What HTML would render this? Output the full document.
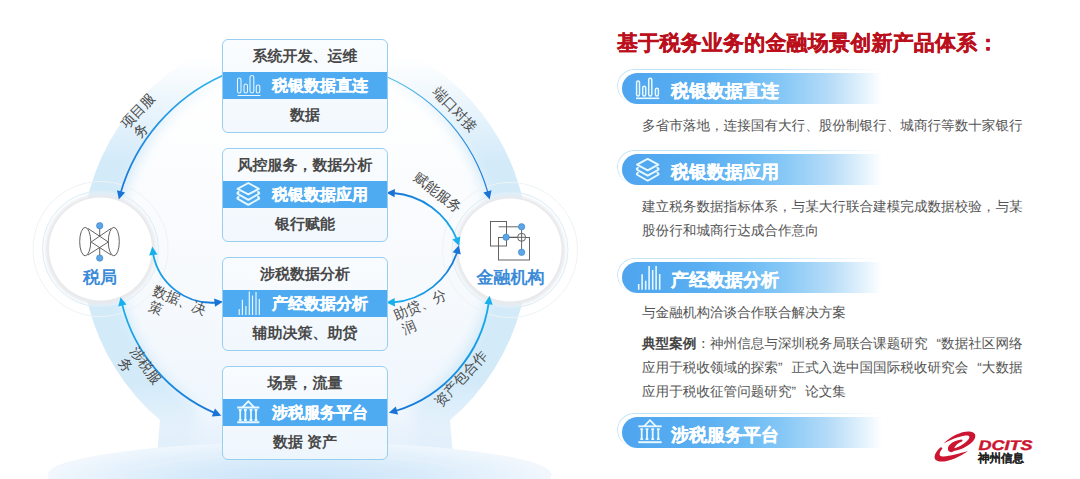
<!DOCTYPE html>
<html><head><meta charset="utf-8">
<style>
html,body{margin:0;padding:0;background:#fff;}
body{width:1080px;height:479px;overflow:hidden;position:relative;font-family:"Liberation Sans",sans-serif;text-rendering:geometricPrecision;}
#bg{position:absolute;left:0;top:0;}
.box{position:absolute;left:222px;width:164px;height:92px;border:1px solid #98cff0;border-radius:6px;background:linear-gradient(rgba(249,252,255,0.85),rgba(240,247,253,0.85));overflow:hidden;}
.box .t{position:absolute;left:0;right:0;top:6px;height:22px;line-height:22px;text-align:center;font-size:15px;font-weight:bold;color:#484848;}
.box .bar{position:absolute;left:0;right:0;top:32px;height:27px;background:#4eabf1;}
.box .bar span{position:absolute;left:49px;top:1px;line-height:27px;font-size:16px;font-weight:bold;color:#fff;white-space:nowrap;-webkit-text-stroke:0.3px #fff;}
.box .bar svg{position:absolute;left:0;top:0;}
.box .b{position:absolute;left:0;right:0;top:65px;height:22px;line-height:22px;text-align:center;font-size:15px;font-weight:bold;color:#484848;}
.title{position:absolute;left:617px;top:30px;font-size:21px;font-weight:bold;color:#bb101c;white-space:nowrap;letter-spacing:0.2px;-webkit-text-stroke:0.3px #bb101c;}
.pill{position:absolute;left:612px;width:270px;height:40px;}
.pill .fill{position:absolute;left:10px;top:5px;width:260px;height:31px;border-radius:16px 0 0 16px;background:linear-gradient(90deg,#4ea5ef 0%,#5aaff1 30%,#6dbbf4 48%,#86c8f6 62%,#b6dcf8 80%,#e0f1fc 92%,rgba(255,255,255,0) 100%);}
.pill .ol{position:absolute;left:5px;top:1px;width:265px;height:33px;border-radius:18px 0 0 18px;border-top:1.5px solid #c4e4f8;border-left:1.5px solid #c4e4f8;-webkit-mask:linear-gradient(90deg,#000 0%,#000 60%,transparent 100%);}
.pill span{position:absolute;left:59px;top:8px;line-height:31px;font-size:18px;font-weight:bold;color:#fff;white-space:nowrap;-webkit-text-stroke:0.25px #fff;}
.q{display:inline-block;width:13.6px;text-align:right;}.q2{display:inline-block;width:13.6px;text-align:left;}
.pill svg{position:absolute;left:0;top:0;}
.desc{position:absolute;left:642px;font-size:13.6px;color:#555;white-space:nowrap;line-height:24px;}
</style></head><body>
<svg id="bg" width="1080" height="479" viewBox="0 0 1080 479">
<defs>
  <linearGradient id="disc" x1="0" y1="29" x2="0" y2="479" gradientUnits="userSpaceOnUse">
    <stop offset="0" stop-color="#ffffff"/>
    <stop offset="0.55" stop-color="#f7fafd"/>
    <stop offset="0.85" stop-color="#eff6fd"/>
    <stop offset="1" stop-color="#dcecfa"/>
  </linearGradient>
  <radialGradient id="band" cx="305" cy="250" r="222" gradientUnits="userSpaceOnUse">
    <stop offset="0.79" stop-color="#e6f1fb" stop-opacity="0"/>
    <stop offset="0.96" stop-color="#d6e8f8" stop-opacity="1"/>
    <stop offset="1" stop-color="#d0e4f7" stop-opacity="1"/>
  </radialGradient>
  <linearGradient id="tf" x1="0" y1="0" x2="0" y2="1">
    <stop offset="0" stop-color="#fff" stop-opacity="0"/>
    <stop offset="0.12" stop-color="#fff" stop-opacity="0"/>
    <stop offset="0.34" stop-color="#fff" stop-opacity="1"/>
    <stop offset="0.8" stop-color="#fff" stop-opacity="1"/>
    <stop offset="0.9" stop-color="#fff" stop-opacity="0.25"/>
    <stop offset="1" stop-color="#fff" stop-opacity="0.1"/>
  </linearGradient>
  <filter id="blur1" x="-20%" y="-20%" width="140%" height="140%"><feGaussianBlur stdDeviation="1.6"/></filter>
  <clipPath id="sil"><path d="M305 26.5 A223.5 223.5 0 0 0 160 420.1 L152 520 L458 520 L450 420.1 A223.5 223.5 0 0 0 305 26.5 Z"/></clipPath>
  <filter id="blurBand" x="-10%" y="-10%" width="120%" height="120%"><feGaussianBlur stdDeviation="6"/></filter>
  <mask id="topfade2" maskUnits="userSpaceOnUse" x="0" y="0" width="1080" height="479"><rect x="0" y="0" width="1080" height="479" fill="url(#tf2)"/></mask>
  <linearGradient id="tf2" x1="0" y1="0" x2="0" y2="1">
    <stop offset="0" stop-color="#fff" stop-opacity="0"/>
    <stop offset="0.1" stop-color="#fff" stop-opacity="0"/>
    <stop offset="0.4" stop-color="#fff" stop-opacity="1"/>
  </linearGradient>
  <mask id="topfade" maskUnits="userSpaceOnUse" x="0" y="0" width="1080" height="479"><rect x="0" y="0" width="1080" height="479" fill="url(#tf)"/></mask>
  <linearGradient id="beamL" x1="0" y1="0" x2="1" y2="0">
    <stop offset="0" stop-color="#d3e6f8" stop-opacity="0.9"/>
    <stop offset="1" stop-color="#e6f1fb" stop-opacity="0"/>
  </linearGradient>
  <linearGradient id="beamR" x1="1" y1="0" x2="0" y2="0">
    <stop offset="0" stop-color="#d3e6f8" stop-opacity="0.9"/>
    <stop offset="1" stop-color="#e6f1fb" stop-opacity="0"/>
  </linearGradient>
  <radialGradient id="plat" cx="299.5" cy="482" r="252" gradientTransform="translate(299.5 482) scale(1 0.17) translate(-299.5 -482)" gradientUnits="userSpaceOnUse">
    <stop offset="0" stop-color="#c9e3fa"/>
    <stop offset="0.45" stop-color="#d6eafa"/>
    <stop offset="0.8" stop-color="#e6f2fc"/>
    <stop offset="1" stop-color="#f1f7fd"/>
  </radialGradient>
  <radialGradient id="cw" cx="0.5" cy="0.45" r="0.55">
    <stop offset="0" stop-color="#ffffff"/>
    <stop offset="0.8" stop-color="#fdfdfe"/>
    <stop offset="1" stop-color="#e4e6ea"/>
  </radialGradient>
  <linearGradient id="ag1" x1="0" y1="0" x2="1" y2="1">
    <stop offset="0" stop-color="#29b6ea"/>
    <stop offset="1" stop-color="#1a73d6"/>
  </linearGradient>
</defs>
<!-- big disc -->
<g>
  <path d="M305 26.5 A223.5 223.5 0 0 0 160 420.1 L152 520 L458 520 L450 420.1 A223.5 223.5 0 0 0 305 26.5 Z" fill="url(#disc)" mask="url(#topfade2)"/>
  <g clip-path="url(#sil)" mask="url(#topfade)">
    <path d="M305 26.5 A223.5 223.5 0 0 0 160 420.1 L152 520 L458 520 L450 420.1 A223.5 223.5 0 0 0 305 26.5 Z" fill="none" stroke="#d3eaf9" stroke-width="70" filter="url(#blurBand)"/>
  </g>
</g>
<!-- platform -->
<ellipse cx="299.5" cy="475" rx="252" ry="33" fill="url(#plat)"/>
<ellipse cx="300" cy="486" rx="195" ry="32" fill="none" stroke="#e6f1fb" stroke-width="1.2"/>
<!-- circles -->
<g>
  <circle cx="100.5" cy="249" r="67.5" fill="none" stroke="#eef3f6" stroke-width="1"/>
  <circle cx="100.5" cy="249" r="58" fill="rgba(250,252,255,0.3)" stroke="#dcedf6" stroke-width="1"/>
  <circle cx="100.5" cy="249.5" r="55" fill="#e8e9ec" filter="url(#blur1)"/>
  <circle cx="100.5" cy="249" r="51.5" fill="#ffffff"/>
  <circle cx="510" cy="250" r="67.5" fill="none" stroke="#eef3f6" stroke-width="1"/>
  <circle cx="510" cy="250" r="58" fill="rgba(250,252,255,0.3)" stroke="#dcedf6" stroke-width="1"/>
  <circle cx="510" cy="250.5" r="55" fill="#e8e9ec" filter="url(#blur1)"/>
  <circle cx="510" cy="250" r="51.5" fill="#ffffff"/>
</g>
<!-- arrows -->
<defs>
<linearGradient id="ar0" gradientUnits="userSpaceOnUse" x1="222.2" y1="75.7" x2="118.8" y2="199.5"><stop offset="0" stop-color="#2fb4ea"/><stop offset="1" stop-color="#1a74d6"/></linearGradient>
<linearGradient id="ar1" gradientUnits="userSpaceOnUse" x1="387.8" y1="77.2" x2="489.7" y2="199.5"><stop offset="0" stop-color="#5cc0ec"/><stop offset="1" stop-color="#1a74d6"/></linearGradient>
<linearGradient id="ar2" gradientUnits="userSpaceOnUse" x1="152.2" y1="246.6" x2="223" y2="301.7"><stop offset="0" stop-color="#18b0ec"/><stop offset="1" stop-color="#1a74d6"/></linearGradient>
<linearGradient id="ar3" gradientUnits="userSpaceOnUse" x1="120.5" y1="297.3" x2="221.3" y2="415.7"><stop offset="0" stop-color="#18b0ec"/><stop offset="1" stop-color="#1a74d6"/></linearGradient>
<linearGradient id="ar4" gradientUnits="userSpaceOnUse" x1="386.3" y1="192.8" x2="459.3" y2="246"><stop offset="0" stop-color="#1a74d6"/><stop offset="1" stop-color="#18b0ec"/></linearGradient>
<linearGradient id="ar5" gradientUnits="userSpaceOnUse" x1="459" y1="245.2" x2="386.3" y2="302.6"><stop offset="0" stop-color="#1a74d6"/><stop offset="1" stop-color="#18b0ec"/></linearGradient>
<linearGradient id="ar6" gradientUnits="userSpaceOnUse" x1="489.6" y1="295.8" x2="388.8" y2="412.8"><stop offset="0" stop-color="#18b0ec"/><stop offset="1" stop-color="#1a74d6"/></linearGradient>
</defs>
<g fill="none" stroke-linecap="round">
<path d="M222.2 75.7 A185.6 185.6 0 0 0 120.6 192.9" stroke="url(#ar0)" stroke-width="1.7"/>
<path d="M387.8 77.2 A181.5 181.5 0 0 1 488.0 192.9" stroke="url(#ar1)" stroke-width="1.2"/>
<path d="M153.0 253.3 A60.0 60.0 0 0 0 216.3 302.6" stroke="url(#ar2)" stroke-width="1.8"/>
<path d="M122.0 303.9 A161.4 161.4 0 0 0 215.0 413.2" stroke="url(#ar3)" stroke-width="1.8"/>
<path d="M393.1 193.0 A74.8 74.8 0 0 1 457.0 239.6" stroke="url(#ar4)" stroke-width="1.8"/>
<path d="M457.2 251.8 A73.3 73.3 0 0 1 393.1 302.4" stroke="url(#ar5)" stroke-width="1.8"/>
<path d="M488.8 302.5 A133.7 133.7 0 0 1 395.4 411.0" stroke="url(#ar6)" stroke-width="1.8"/>
</g>
<g>
<path d="M118.8 199.5 L117.0 190.2 L125.1 192.4 Z" fill="#1a74d6"/>
<path d="M489.7 199.5 L483.4 192.4 L491.5 190.2 Z" fill="#1a74d6"/>
<path d="M223.0 301.7 L215.0 306.8 L214.1 298.5 Z" fill="#1a74d6"/>
<path d="M152.2 246.6 L157.5 254.5 L149.2 255.6 Z" fill="#18b0ec"/>
<path d="M221.3 415.7 L211.8 416.4 L215.0 408.6 Z" fill="#1a74d6"/>
<path d="M120.5 297.3 L126.5 304.6 L118.3 306.5 Z" fill="#18b0ec"/>
<path d="M459.3 246.0 L452.4 239.5 L460.3 236.6 Z" fill="#18b0ec"/>
<path d="M386.3 192.8 L395.0 188.9 L394.6 197.3 Z" fill="#1a74d6"/>
<path d="M386.3 302.6 L394.6 298.0 L395.0 306.4 Z" fill="#18b0ec"/>
<path d="M459.0 245.2 L460.7 254.5 L452.6 252.2 Z" fill="#1a74d6"/>
<path d="M388.8 412.8 L395.8 406.4 L398.1 414.5 Z" fill="#1a74d6"/>
<path d="M489.6 295.8 L492.7 304.8 L484.4 303.7 Z" fill="#18b0ec"/>
</g>
<!-- arrow labels -->
<g font-family="Liberation Sans, sans-serif" font-size="14" fill="#4a4a4a" dominant-baseline="central">
  <g transform="translate(127.9 120.7) rotate(-46)"><text x="-7" y="0">项目服</text><text x="-5" y="16">务</text></g>
  <g transform="translate(440.5 94) rotate(46)"><text x="-7" y="0">端口对接</text></g>
  <g transform="translate(421.3 179.4) rotate(37.5)"><text x="-7" y="0">赋能服务</text></g>
  <g transform="translate(160.2 292.2) rotate(22.3)"><text x="-7" y="0">数据、决</text><text x="-5" y="16">策</text></g>
  <g transform="translate(400.6 313.2) rotate(-23.5)"><text x="-7" y="0">助贷、分</text><text x="-5" y="16">润</text></g>
  <g transform="translate(137.8 354) rotate(54.3)"><text x="-7" y="0">涉税服</text><text x="-5" y="16">务</text></g>
  <g transform="translate(441.7 399.1) rotate(-47.3)"><text x="-7" y="0">资产包合作</text></g>
</g>
<!-- circle icons -->
<g fill="none" stroke="#5a5a5a" stroke-width="0.95">
  <ellipse cx="85.2" cy="241.6" rx="5.5" ry="14.2"/>
  <ellipse cx="113.8" cy="241.6" rx="5.5" ry="14.2"/>
  <path d="M87.9 228.4 L108.3 242 L87.9 255 M111.1 228.4 L91.1 242 L111.1 255 M99.7 228 L99.7 236 M99.7 247.5 L99.7 256"/>
</g>
<g fill="#5aa6e8" stroke="#3d80c2" stroke-width="0.6">
  <circle cx="99.7" cy="225.7" r="3.2"/>
  <circle cx="99.7" cy="258.1" r="3.2"/>
</g>
<text x="100" y="283.2" text-anchor="middle" font-family="Liberation Sans, sans-serif" font-size="17" font-weight="bold" fill="#3b8bd8">税局</text>
<g fill="none" stroke="#555" stroke-width="0.9">
  <rect x="490.5" y="221.5" width="16" height="24.5"/>
  <rect x="498.5" y="237.5" width="31" height="22.5"/>
  <path d="M498.6 226.8 L521.6 226.8 L521.6 252.3 M506.1 237.2 L517.6 237.2"/>
  <circle cx="521.6" cy="237.3" r="4" fill="#fff"/>
  <path d="M517.6 237.3 L525.6 237.3 M521.6 233.3 L521.6 241.3"/>
</g>
<g fill="#5aa6e8" stroke="#3d80c2" stroke-width="0.6">
  <circle cx="521.6" cy="226.8" r="3.2"/>
  <circle cx="506.1" cy="237.2" r="3.2"/>
  <circle cx="521.6" cy="252.3" r="3.2"/>
</g>
<text x="510.5" y="283.2" text-anchor="middle" font-family="Liberation Sans, sans-serif" font-size="17" font-weight="bold" fill="#3b8bd8">金融机构</text>
</svg>

<!-- boxes -->
<div class="box" style="top:39px">
  <div class="t">系统开发、运维</div>
  <div class="bar"><svg width="50" height="27"><g fill="none" stroke="#e8f6ff" stroke-width="1.1"><rect x="14.5" y="6" width="3.5" height="15" rx="1.75"/><rect x="21" y="12" width="3.5" height="9" rx="1.75"/><rect x="27" y="3.5" width="3.8" height="17.5" rx="1.9"/><rect x="33.3" y="13" width="3.5" height="8" rx="1.75"/><path d="M14.5 23.5 L37.5 23.5"/></g></svg><span>税银数据直连</span></div>
  <div class="b">数据</div>
</div>
<div class="box" style="top:148px">
  <div class="t">风控服务，数据分析</div>
  <div class="bar"><svg width="50" height="27"><g transform="translate(-10.4 -7.9)"><g fill="none" stroke="#e8f8ff" stroke-width="1.9" stroke-linejoin="round" stroke-linecap="round"><path d="M25 15.7 L35.7 9.9 L46.3 15.7 L35.7 21.3 Z"/><path d="M26 18.8 Q24 20 25.2 20.8 L35.7 26.7 L46.2 20.8 Q47.4 20 45.4 18.8"/><path d="M26 23.8 Q24 25 25.2 25.8 L35.7 31.8 L46.2 25.8 Q47.4 25 45.4 23.8"/></g></g></svg><span>税银数据应用</span></div>
  <div class="b">银行赋能</div>
</div>
<div class="box" style="top:257px">
  <div class="t">涉税数据分析</div>
  <div class="bar"><svg width="50" height="27"><g fill="none" stroke="#e8f6ff" stroke-width="1.2"><path d="M16.2 25 V19 M19.4 25 V9.7 M22.9 25 V16 M26.3 25 V1.5 M29.5 25 V5.6 M33 25 V2 M36.3 25 V9"/></g></svg><span>产经数据分析</span></div>
  <div class="b">辅助决策、助贷</div>
</div>
<div class="box" style="top:365.5px">
  <div class="t">场景，流量</div>
  <div class="bar"><svg width="50" height="27"><g fill="none" stroke="#e8f8ff" stroke-width="1.8"><path d="M19.3 8.5 L25.3 2.4 L31.3 8.5"/><path d="M14.2 8.5 L36.4 8.5"/><path d="M17.2 11.0 V21.0 M15.8 11.0 H18.6 M15.8 21.0 H18.6 M22.4 11.0 V21.0 M21.0 11.0 H23.8 M21.0 21.0 H23.8 M28.0 11.0 V21.0 M26.6 11.0 H29.4 M26.6 21.0 H29.4 M33.0 11.0 V21.0 M31.6 11.0 H34.4 M31.6 21.0 H34.4"/><path d="M14.2 23.3 L36.4 23.3" stroke-width="2"/></g></svg><span>涉税服务平台</span></div>
  <div class="b">数据 资产</div>
</div>

<!-- right side -->
<div class="title">基于税务业务的金融场景创新产品体系：</div>

<div class="pill" style="top:68px"><div class="ol"></div><div class="fill"></div>
  <svg width="60" height="40"><g fill="none" stroke="#e8f8ff" stroke-width="1.5"><rect x="24.6" y="13" width="2.9" height="15" rx="1.45"/><rect x="30.7" y="18.3" width="3" height="9.7" rx="1.5"/><rect x="36.7" y="10.3" width="3.1" height="17.7" rx="1.55"/><rect x="43.4" y="20.3" width="3" height="7.7" rx="1.5"/><path d="M24 30.3 L47.3 30.3" stroke-width="1.6"/></g></svg>
  <span>税银数据直连</span></div>
<div class="desc" style="top:114px">多省市落地，连接国有大行、股份制银行、城商行等数十家银行</div>

<div class="pill" style="top:149px"><div class="ol"></div><div class="fill"></div>
  <svg width="60" height="40"><g fill="none" stroke="#e8f8ff" stroke-width="1.9" stroke-linejoin="round" stroke-linecap="round"><path d="M25 15.7 L35.7 9.9 L46.3 15.7 L35.7 21.3 Z"/><path d="M26 18.8 Q24 20 25.2 20.8 L35.7 26.7 L46.2 20.8 Q47.4 20 45.4 18.8"/><path d="M26 23.8 Q24 25 25.2 25.8 L35.7 31.8 L46.2 25.8 Q47.4 25 45.4 23.8"/></g></svg>
  <span>税银数据应用</span></div>
<div class="desc" style="top:195.2px">建立税务数据指标体系，与某大行联合建模完成数据校验，与某<br>股份行和城商行达成合作意向</div>

<div class="pill" style="top:257px"><div class="ol"></div><div class="fill"></div>
  <svg width="60" height="40"><g fill="none" stroke="#e8f8ff" stroke-width="1.6"><path d="M26.7 32.7 V27 M30.1 32.7 V17.3 M33.7 32.7 V23.7 M37.1 32.7 V9 M40.7 32.7 V13 M44.1 32.7 V9 M47.7 32.7 V17"/></g></svg>
  <span>产经数据分析</span></div>
<div class="desc" style="top:301.2px">与金融机构洽谈合作联合解决方案</div>
<div class="desc" style="top:332.2px"><b style="color:#444">典型案例</b>：神州信息与深圳税务局联合课题研究<span class="q">“</span>数据社区网络<br>应用于税收领域的探索<span class="q2">”</span>正式入选中国国际税收研究会<span class="q">“</span>大数据<br>应用于税收征管问题研究<span class="q2">”</span>论文集</div>

<div class="pill" style="top:412px"><div class="ol"></div><div class="fill"></div>
  <svg width="60" height="40"><g fill="none" stroke="#e8f8ff" stroke-width="1.8"><path d="M32.0 14.3 L38.0 8.2 L44.0 14.3"/><path d="M26.3 14.3 L49.7 14.3"/><path d="M29.7 17.2 V27.2 M28.3 17.2 H31.1 M28.3 27.2 H31.1 M35.0 17.2 V27.2 M33.6 17.2 H36.4 M33.6 27.2 H36.4 M40.7 17.2 V27.2 M39.3 17.2 H42.1 M39.3 27.2 H42.1 M46.3 17.2 V27.2 M44.9 17.2 H47.7 M44.9 27.2 H47.7"/><path d="M26.3 30.2 L49.7 30.2" stroke-width="2"/></g></svg>
  <span>涉税服务平台</span></div>

<!-- logo -->
<svg style="position:absolute;left:0;top:0" width="1080" height="479" viewBox="0 0 1080 479">
  <g fill="#cc1530" stroke="none">
    <path d="M943.5 443.5 C951 436 962 431 969.5 431.5 C977.5 432 977 439 970 444 C964 448.5 957 451 952 451 L953 448.5 C958 447.5 963.5 444.5 967 441 C971 437 969.5 435 965.5 435.5 C958.5 436.5 950 440 943.5 443.5 Z"/>
    <path d="M968 451 C960 457 947 462.5 939.5 461.5 C932 460.5 933.5 453 941 447 L942.5 448.5 C938.5 453 938.5 457 943.5 456.5 C950 456 959.5 453.5 968 451 Z"/>
    <path d="M948.5 451 C946 446.5 951.5 441 961.5 439.5 C962.5 439.5 963 440.5 962 441.5 C957 443.5 953.5 447 954 451 C952.5 452.5 950 452.5 948.5 451 Z"/>
  </g>
  <text x="978.5" y="450" font-family="Liberation Sans, sans-serif" font-size="14" font-weight="bold" font-style="italic" fill="#cc1530" stroke="#cc1530" stroke-width="0.4" textLength="54" lengthAdjust="spacingAndGlyphs">DCITS</text>
  <text x="978" y="462" font-family="Liberation Sans, sans-serif" font-size="11.5" font-weight="bold" fill="#222" stroke="#222" stroke-width="0.1" textLength="46" lengthAdjust="spacingAndGlyphs">神州信息</text>
</svg>
</body></html>
